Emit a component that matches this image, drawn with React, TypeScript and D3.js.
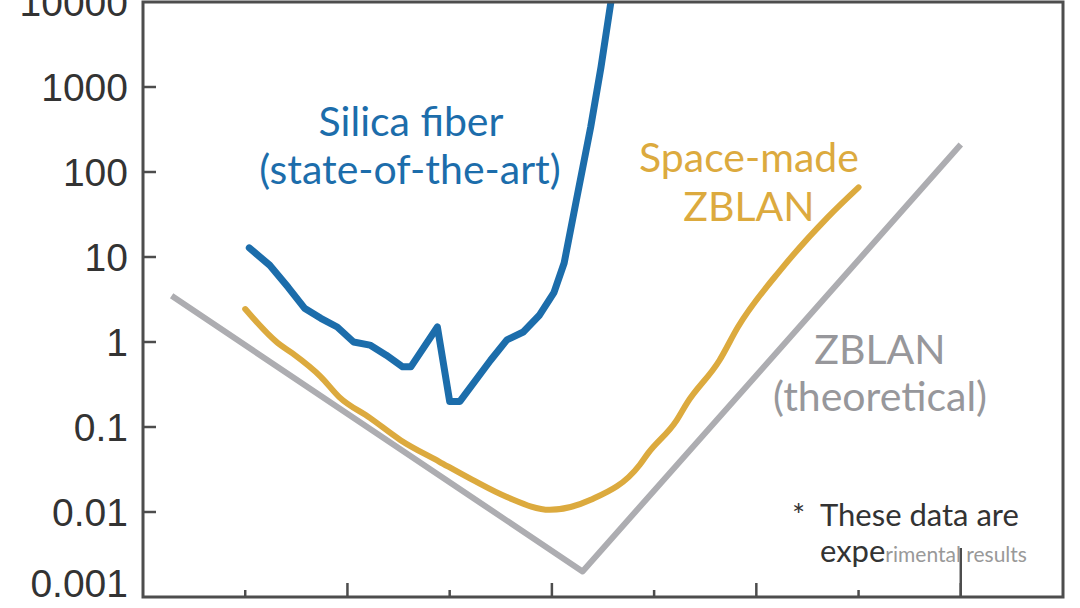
import React from 'react'
import * as d3 from 'd3'

// wavelength (um) vs attenuation (dB/km)
const silicaX = [0.52, 0.62, 0.71, 0.79, 0.87, 0.95, 1.03, 1.11, 1.19, 1.27, 1.31, 1.44, 1.5, 1.55, 1.7, 1.78, 1.86, 1.94, 2.01, 2.06, 2.12, 2.19, 2.24, 2.29]
const silicaY = [12.8, 8.0, 4.4, 2.5, 1.9, 1.5, 1.0, 0.92, 0.7, 0.51, 0.51, 1.5, 0.2, 0.2, 0.61, 1.06, 1.31, 2.08, 3.8, 8.5, 47, 340, 1700, 10500]

const spaceX = [0.5, 0.66, 0.73, 0.87, 0.96, 1.11, 1.26, 1.45, 1.61, 1.78, 1.99, 2.19, 2.43, 2.47, 2.61, 2.66, 2.82, 2.91, 3.13, 3.35, 3.5]
const spaceY = [2.44, 0.97, 0.74, 0.39, 0.225, 0.128, 0.07, 0.039, 0.024, 0.015, 0.0106, 0.0139, 0.036, 0.049, 0.12, 0.19, 0.61, 1.5, 7.6, 29.5, 66]

const theoryX = [0.14, 2.15, 4.0]
const theoryY = [3.5, 0.002, 210]

const yTicks = [0.001, 0.01, 0.1, 1, 10, 100, 1000, 10000]
const yTickLabels = ['0.001', '0.01', '0.1', '1', '10', '100', '1000', '10000']
const xMajor = [0, 1, 2, 3, 4]
const xMinor = [0.5, 1.5, 2.5, 3.5]

const W = 1080
const H = 608
const left = 143
const right = 1063
const top = 2
const bottom = 597

const BLUE = '#1c6dab'
const GOLD = '#dcaa3e'
const GREY = '#adadb1'
const AXIS = '#4d4d4d'

export default function App() {
  const x = d3.scaleLinear().domain([0, 4.5]).range([left, right])
  const y = d3.scaleLog().domain([0.001, 10000]).range([bottom, top])

  const line = (xs: number[], ys: number[], curve: d3.CurveFactory = d3.curveLinear) =>
    d3.line<number>()
      .x((_, i) => x(xs[i]))
      .y((_, i) => y(ys[i]))
      .curve(curve)(xs) || ''

  const labelFont = '"Lato", "Open Sans", sans-serif'
  const tickFont = '"Liberation Sans", Arial, sans-serif'

  return (
    <svg width={W} height={H} style={{ position: 'fixed', left: 0, top: 0, background: '#fff' }}>
      <defs>
        <clipPath id="plot">
          <rect x={left} y={top} width={right - left} height={bottom - top} />
        </clipPath>
      </defs>
      <rect width={W} height={H} fill="#fff" />

      {/* y ticks + labels */}
      {yTicks.map((t, i) => (
        <g key={t}>
          {i > 0 && i < yTicks.length - 1 && (
            <line x1={left} x2={left + 13} y1={y(t)} y2={y(t)} stroke={AXIS} strokeWidth={2.5} />
          )}
          <text x={128} y={i === 0 ? 597 : y(t) + 14} textAnchor="end" fontFamily={tickFont}
            fontSize={39} fill="#333">{yTickLabels[i]}</text>
        </g>
      ))}

      {/* x ticks */}
      {xMajor.map(t => (
        <g key={'M' + t}>
          {t > 0 && <line x1={x(t)} x2={x(t)} y1={bottom} y2={bottom - 14} stroke={AXIS} strokeWidth={2.5} />}
          <text x={x(t)} y={bottom + 37} textAnchor="middle" fontFamily={tickFont} fontSize={37} fill="#444">{t}</text>
        </g>
      ))}
      {xMinor.map(t => (
        <line key={'m' + t} x1={x(t)} x2={x(t)} y1={bottom} y2={bottom - 7} stroke={AXIS} strokeWidth={2.5} />
      ))}
      <line x1={x(4)} x2={x(4)} y1={bottom} y2={548} stroke={AXIS} strokeWidth={2.5} />

      <g clipPath="url(#plot)" fill="none" strokeLinejoin="round" strokeLinecap="round">
        <path d={line(theoryX, theoryY)} stroke={GREY} strokeWidth={6} strokeLinecap="butt" />
        <path d={line(spaceX, spaceY, d3.curveMonotoneX)} stroke={GOLD} strokeWidth={6} />
        <path d={line(silicaX, silicaY)} stroke={BLUE} strokeWidth={7} />
      </g>

      {/* frame */}
      <rect x={left} y={top} width={right - left} height={bottom - top} fill="none" stroke={AXIS} strokeWidth={3} />

      {/* annotations */}
      <g fontFamily={labelFont} fontSize={41} textAnchor="middle">
        <text x={411} y={136} fill={BLUE}>Silica fiber</text>
        <text x={410} y={184} fill={BLUE}>(state-of-the-art)</text>
        <text x={749} y={172} fill={GOLD}>Space-made</text>
        <text x={749} y={221} fill={GOLD}>ZBLAN</text>
        <text x={880} y={364} fill="#97979b">ZBLAN</text>
        <text x={880} y={411} fill="#97979b">(theoretical)</text>
      </g>
      <g fontFamily={labelFont} fontSize={31} fill="#333">
        <text x={792} y={526}>*</text>
        <text x={820} y={526}>These data are</text>
        <text x={820} y={562}>expe<tspan fill="#999" fontSize={21}>rimental results</tspan></text>
      </g>
    </svg>
  )
}
